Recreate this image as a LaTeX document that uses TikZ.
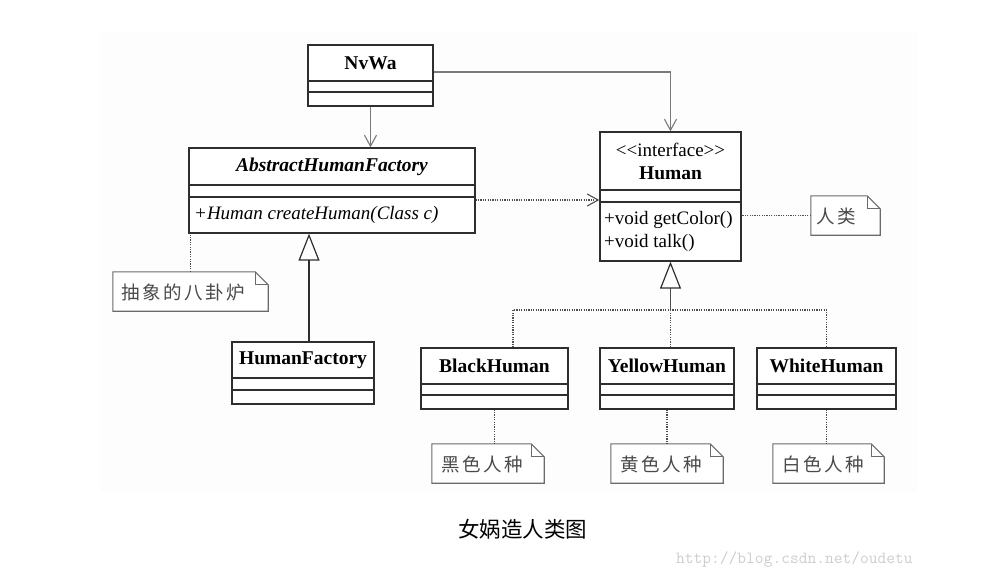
\documentclass[tikz,border=0pt]{standalone}
\usepackage{fontspec}
\setmainfont{Liberation Serif}
\newfontfamily\cjknote[LetterSpace=14]{Noto Sans CJK SC}
\newfontfamily\cjkcap{Noto Sans CJK SC}
\usetikzlibrary{arrows.meta,calc}
\definecolor{boxc}{HTML}{2E2E2E}
\definecolor{linec}{HTML}{7A7A7A}
\definecolor{dotc}{HTML}{4E4E4E}
\definecolor{notec}{HTML}{6A6A6A}
\definecolor{notetxt}{HTML}{4A4A4A}
\definecolor{wm}{HTML}{CDCDCD}
\definecolor{bgc}{HTML}{FDFDFD}
\begin{document}
\begin{tikzpicture}[x=1pt,y=-1pt,
  clsbox/.style={draw=boxc, line width=1.3pt, fill=white, inner sep=0pt},
  sepline/.style={draw=boxc, line width=1.1pt},
  cname/.style={font=\fontsize{19.5}{21}\selectfont\bfseries, inner sep=0pt},
  ctext/.style={font=\fontsize{19}{21}\selectfont, inner sep=0pt},
  assoc/.style={draw=linec, line width=1.1pt, -{Straight Barb[length=11pt,width=12pt,line width=1.1pt]}},
  dep/.style={draw=dotc, line width=1.1pt, dash pattern=on 1.2pt off 1.2pt},
  deparrow/.style={dep, -{Straight Barb[length=11pt,width=12pt,line width=1.1pt,sep=0pt]}},
  inherit/.style={-{Triangle[open,length=27pt,width=21pt,line width=1.2pt,color=boxc]}},
  notebox/.style={inner sep=0pt},
  noteline/.style={draw=notec, line width=1.1pt, fill=white},
  notetext/.style={font=\cjknote\fontsize{18.5}{20}\selectfont, text=notetxt, inner sep=0pt, anchor=west}
]
\useasboundingbox (0,0) rectangle (997,578);
\fill[bgc] (100,32) rectangle (917,492);

% ---- class boxes ----
\node[clsbox, minimum width=125pt, minimum height=61pt] (nvwa) at (370.5,75.5) {};
\draw[sepline] (308,81) -- (433,81) (308,92) -- (433,92);
\node[cname] at (370.5,63) {NvWa};

\node[clsbox, minimum width=286pt, minimum height=85pt] (abs) at (332,190.5) {};
\draw[sepline] (189,185) -- (475,185) (189,197) -- (475,197);
\node[cname, font=\fontsize{19.5}{21}\selectfont\bfseries\itshape] at (332,167) {AbstractHumanFactory};
\node[ctext, font=\fontsize{19}{21}\selectfont\itshape, anchor=west] at (194,215) {+Human createHuman(Class c)};

\node[clsbox, minimum width=141pt, minimum height=129pt] (hum) at (670.5,196.5) {};
\draw[sepline] (600,190) -- (741,190) (600,202) -- (741,202);
\node[ctext] at (670.5,150) {<{}<interface>{}>};
\node[cname] at (670.5,173) {Human};
\node[ctext, anchor=west] at (604,220) {+void getColor()};
\node[ctext, anchor=west] at (604,243) {+void talk()};

\node[clsbox, minimum width=142pt, minimum height=62pt] (hf) at (303,373) {};
\draw[sepline] (232,378) -- (374,378) (232,390) -- (374,390);
\node[cname] at (303,360) {HumanFactory};

\node[clsbox, minimum width=147pt, minimum height=61pt] (blk) at (494.5,378.5) {};
\draw[sepline] (421,384) -- (568,384) (421,395) -- (568,395);
\node[cname] at (494.5,366) {BlackHuman};

\node[clsbox, minimum width=134pt, minimum height=61pt] (ylw) at (667,378.5) {};
\draw[sepline] (600,384) -- (734,384) (600,395) -- (734,395);
\node[cname] at (667,366) {YellowHuman};

\node[clsbox, minimum width=139pt, minimum height=61pt] (wht) at (826.5,378.5) {};
\draw[sepline] (757,384) -- (896,384) (757,395) -- (896,395);
\node[cname] at (826.5,366) {WhiteHuman};

% ---- notes ----
\node[notebox, minimum width=155pt, minimum height=39pt] (nabs) at (190.5,291.5) {};
\node[notebox, minimum width=69pt, minimum height=39pt] (nhum) at (845.5,215.5) {};
\node[notebox, minimum width=112pt, minimum height=39pt] (nblk) at (488,463.5) {};
\node[notebox, minimum width=112pt, minimum height=39pt] (nylw) at (667,463.5) {};
\node[notebox, minimum width=111pt, minimum height=39pt] (nwht) at (828.5,463.5) {};
\foreach \n in {nabs,nhum,nblk,nylw,nwht}{
  \draw[noteline] (\n.south west) -- (\n.north west) -- ($(\n.north east)+(-13,0)$)
     -- ($(\n.north east)+(0,13)$) -- (\n.south east) -- cycle;
  \draw[noteline, fill=none] ($(\n.north east)+(-13,0)$) |- ($(\n.north east)+(0,13)$);
}
\node[notetext] at ($(nabs.west)+(8,1)$) {抽象的八卦炉};
\node[notetext] at ($(nhum.west)+(5,1)$) {人类};
\node[notetext] at ($(nblk.west)+(9,1)$) {黑色人种};
\node[notetext] at ($(nylw.west)+(9,1)$) {黄色人种};
\node[notetext] at ($(nwht.west)+(9,1)$) {白色人种};

% ---- connectors ----
\draw[assoc] (nvwa.south) -- (nvwa.south |- abs.north);
\coordinate (nvE) at ($(nvwa.east)+(0,-3.5)$);
\draw[assoc] (nvE) -| (hum.north);
\coordinate (depS) at ($(abs.east)+(0,9.5)$);
\draw[deparrow] (depS) -- (depS -| hum.west);

\coordinate (hfTop) at ($(hf.north)+(6,0)$);
\draw[draw=boxc, line width=1.2pt, inherit] (hfTop) -- (hfTop |- abs.south);

\coordinate (bj) at (hum.south |- 0,310);
\draw[dep] ($(blk.north)+(18.5,0)$) |- (wht.north |- bj) -- (wht.north);
\draw[dep] (ylw.north -| hum.south) -- (bj);
\draw[draw=dotc, line width=1.2pt, inherit] (bj) -- (hum.south);

\draw[dep] (nabs.north) -- (nabs.north |- abs.south);
\draw[dep] (nhum.west) -- (nhum.west -| hum.east);
\draw[dep] (blk.south) -- (blk.south |- nblk.north);
\draw[dep] (ylw.south) -- (ylw.south |- nylw.north);
\draw[dep] (wht.south) -- (wht.south |- nwht.north);

% ---- caption and watermark ----
\node[inner sep=0pt, font=\cjkcap\fontsize{21.5}{23}\selectfont] (cap) at (522.5,529) {女娲造人类图};
\node[inner sep=0pt, anchor=west, text=wm, font=\ttfamily\fontsize{17}{18}\selectfont] (wmk) at (676,560) {http://blog.csdn.net/oudetu};
\end{tikzpicture}
\end{document}
